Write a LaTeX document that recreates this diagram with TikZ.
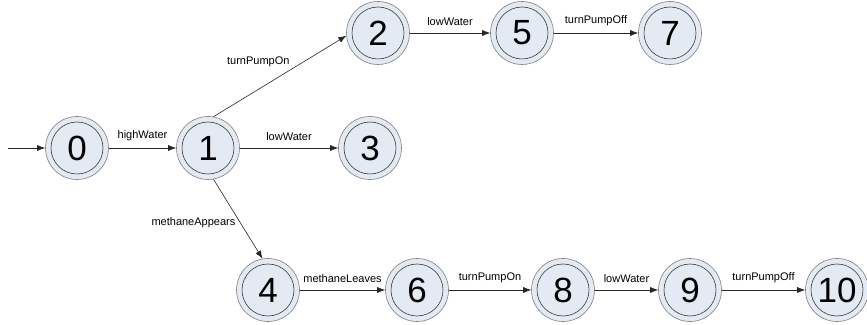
\documentclass[tikz,border=0pt]{standalone}
\usepackage{fontspec}
\setmainfont{Liberation Sans}
\usetikzlibrary{arrows.meta}
\definecolor{statefill}{HTML}{E4EAF4}
\definecolor{ringouter}{HTML}{7F7F7F}
\definecolor{ringinner}{HTML}{3A3A3A}
\begin{document}
\begin{tikzpicture}[x=1pt,y=1pt,
  state/.style={circle, draw=ringouter, line width=0.6pt, fill=statefill,
    minimum size=63pt, inner sep=0pt, font=\fontsize{35}{35}\selectfont,
    path picture={\draw[ringinner, line width=0.6pt]
      (path picture bounding box.center) circle (26pt);}},
  trans/.style={-{Latex[length=8pt,width=6pt]}, line width=0.6pt, black!85},
  lbl/.style={font=\fontsize{11}{13}\selectfont, text=black, above=4pt},
  dlbl/.style={font=\fontsize{11}{13}\selectfont, text=black}]
\useasboundingbox (0,0) rectangle (867,324);

% states
\node[state] (n0)  at (77,176)  {0};
\node[state] (n1)  at (208,176) {1};
\node[state] (n2)  at (378,291) {2};
\node[state] (n5)  at (522,291) {5};
\node[state] (n7)  at (670,291) {7};
\node[state] (n3)  at (370,176) {3};
\node[state] (n4)  at (268,34)  {4};
\node[state] (n6)  at (417,34)  {6};
\node[state] (n8)  at (563,34)  {8};
\node[state] (n9)  at (690,34)  {9};
\node[state] (n10) at (837,34)  {10};

% initial arrow
\coordinate (start) at (8,176);
\draw[trans] (start) -- (n0);

% transitions
\draw[trans] (n0) -- node[lbl] {highWater} (n1);
\draw[trans] (n1) -- node[lbl] {lowWater} (n3);
\draw[trans] (n1.80) -- node[dlbl, pos=0.36, xshift=-3pt, yshift=26pt] {turnPumpOn} (n2.185);
\draw[trans] (n2) -- node[lbl] {lowWater} (n5);
\draw[trans] (n5) -- node[lbl] {turnPumpOff} (n7);
\draw[trans] (n1.-80) -- node[dlbl, pos=0.54, anchor=east, xshift=-1pt] {methaneAppears} (n4.100);
\draw[trans] (n4) -- node[lbl] {methaneLeaves} (n6);
\draw[trans] (n6) -- node[lbl] {turnPumpOn} (n8);
\draw[trans] (n8) -- node[lbl] {lowWater} (n9);
\draw[trans] (n9) -- node[lbl] {turnPumpOff} (n10);
\end{tikzpicture}
\end{document}
